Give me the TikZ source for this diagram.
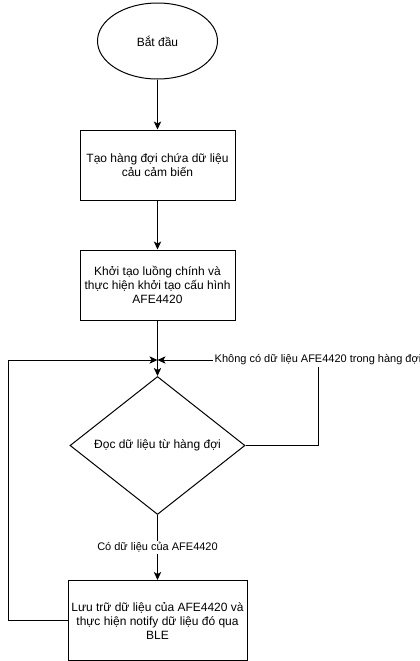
\documentclass[tikz,border=0pt]{standalone}
\usepackage{fontspec}
\setmainfont{Liberation Sans}
\usetikzlibrary{shapes.geometric,arrows.meta}
\begin{document}
\begin{tikzpicture}[x=0.75pt,y=-0.75pt]
\tikzset{hop/.style={draw, rectangle, align=center, font=\fontsize{9}{10.5}\selectfont, line width=0.75pt, inner sep=0pt},
  nhan/.style={fill=white, font=\fontsize{8.25}{9.5}\selectfont, inner sep=1pt},
  mui/.style={-{Stealth[length=6pt,width=5.5pt,inset=1.5pt]}, line width=0.75pt}}
\useasboundingbox (0,0) rectangle (420,661);
\node[hop, ellipse, minimum width=90pt, minimum height=57pt] (N0) at (157.5,41) {Bắt đầu};
\node[hop, minimum width=116.25pt, minimum height=52.5pt] (N1) at (157.5,165) {Tạo hàng đợi chứa dữ liệu\\cảu cảm biến};
\node[hop, minimum width=116.25pt, minimum height=52.5pt] (N2) at (157.5,285) {Khởi tạo luồng chính và\\thực hiện khởi tạo cấu hình\\AFE4420};
\coordinate (J) at (157.5,360);
\node[hop, diamond, minimum width=131.25pt, minimum height=81.75pt] (N3) at (157.5,445.5) {Đọc dữ liệu từ hàng đợi};
\node[hop, minimum width=134.25pt, minimum height=60pt] (N4) at (157.5,620.5) {Lưu trữ dữ liệu của AFE4420 và\\thực hiện notify dữ liệu đó qua\\BLE};
\coordinate (C1) at (318,360);
\coordinate (C2) at (8,360);
\draw[mui] (N0) -- (N1);
\draw[mui] (N1) -- (N2);
\draw[mui] (N2) -- (N3);
\draw[mui] (N3) -- node[nhan] {Có dữ liệu của AFE4420} (N4);
\draw[mui] (N3.east) -| (C1) node[nhan] {Không có dữ liệu AFE4420 trong hàng đợi} -- (J);
\draw[mui] (N4.west) -| (C2) -- (J);
\end{tikzpicture}
\end{document}
